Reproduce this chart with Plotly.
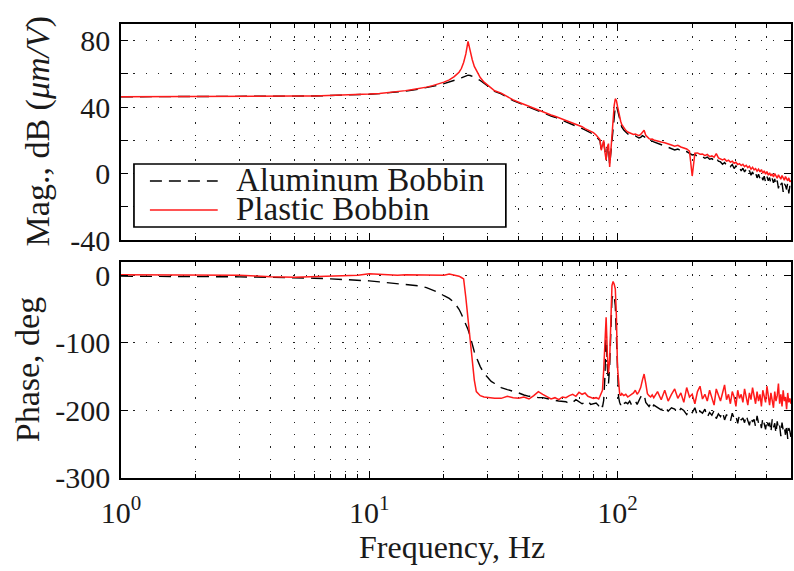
import plotly.graph_objects as go

# Frequency grid of the measured response (Hz)
freq_hz = [
    1, 1.25, 1.5, 2, 2.5, 3, 3.5, 4, 5, 6,
    7, 8, 9, 10, 11, 12, 13, 14, 15, 16,
    17, 18, 19, 20, 21, 22, 23, 23.5, 24, 24.5,
    25, 25.5, 26, 26.5, 27, 28, 29, 30, 31, 32,
    34, 36, 38, 40, 42, 44, 46, 48, 50, 52,
    54, 56, 58, 60, 62, 64, 66, 68, 70, 72,
    74, 76, 78, 80, 82, 84, 85, 86, 87, 88,
    89, 90, 91, 92, 93, 94, 95, 96, 97, 98,
    99, 100, 101, 102, 103, 104, 106, 108, 110, 112,
    114, 116, 118, 120, 122, 124, 126, 128, 130, 132,
    134, 136, 138, 140, 145, 150, 155, 160, 165, 170,
    175, 180, 185, 190, 195, 200, 205, 210, 215, 220,
    225, 230, 235, 240, 245, 250, 255, 260, 265, 270,
    275, 280, 285, 290, 295, 300, 305, 310, 315, 320,
    325, 330, 335, 340, 345, 350, 355, 360, 365, 370,
    375, 380, 385, 390, 395, 400, 405, 410, 415, 420,
    425, 430, 435, 440, 445, 450, 455, 460, 465, 470,
    475, 480, 485, 490, 495, 500,
]

# Magnitude, dB (um/V)
mag_aluminum_db = [
    46.2, 46.2, 46.2, 46.3, 46.3, 46.4, 46.4, 46.5, 46.6, 46.7,
    46.9, 47.1, 47.4, 47.7, 48.1, 48.5, 49.0, 49.6, 50.2, 50.9,
    51.6, 52.4, 53.2, 54.1, 55.0, 56.0, 57.0, 57.6, 58.2, 58.8,
    59.2, 59.0, 58.6, 58.0, 57.4, 56.0, 54.5, 52.8, 51.0, 49.5,
    48.0, 45.8, 43.9, 42.5, 41.2, 39.9, 38.6, 37.6, 36.7, 35.7,
    34.6, 33.9, 33.0, 32.0, 31.2, 30.3, 29.5, 28.8, 28.0, 27.4,
    26.3, 25.4, 24.6, 23.6, 22.2, 20.8, 19.8, 14.5, 16.0, 19.0,
    12.5, 8.5, 15.0, 16.5, 5.0, 12.5, 21.0, 30.0, 37.0, 40.5,
    41.0, 38.5, 35.5, 32.5, 30.0, 28.0, 26.2, 24.8, 23.8, 23.3,
    22.8, 22.4, 22.6, 22.0, 21.4, 21.8, 22.8, 22.2, 21.2, 20.4,
    19.8, 19.4, 19.6, 19.0, 18.3, 17.5, 16.6, 15.8, 15.2, 14.2,
    14.8, 13.9, 12.8, 13.2, 12.0, 11.2, 11.4, 10.4, 10.9, 9.8,
    9.2, 9.9, 8.6, 9.0, 7.9, 9.6, 7.4, 7.0, 5.6, 6.6,
    5.0, 6.0, 4.2, 5.4, 3.0, 4.6, 2.6, 3.8, 1.6, 3.2,
    1.0, 2.6, 0.2, 1.8, -1.0, 1.0, -1.6, 0.4, -2.6, -0.4,
    -3.0, -0.8, -4.0, -1.6, -5.2, -1.8, -4.4, -2.4, -6.0, -3.0,
    -5.6, -3.2, -7.0, -4.2, -9.0, -4.8, -6.4, -5.6, -11.0, -6.2,
    -7.2, -9.6, -5.8, -12.0, -7.0, -8.4,
]

mag_plastic_db = [
    46.2, 46.2, 46.2, 46.3, 46.3, 46.4, 46.4, 46.5, 46.6, 46.7,
    46.9, 47.2, 47.5, 47.8, 48.2, 48.7, 49.3, 49.9, 50.6, 51.2,
    52.0, 52.9, 53.9, 55.0, 56.4, 58.3, 61.0, 63.2, 66.8, 72.0,
    79.5, 73.5, 68.5, 64.5, 62.0, 57.8, 55.0, 53.0, 51.3, 49.8,
    48.4, 46.2, 44.3, 42.9, 41.6, 40.3, 39.0, 38.1, 37.2, 36.2,
    35.2, 34.5, 33.6, 32.6, 31.8, 31.0, 30.1, 29.5, 28.6, 28.2,
    27.0, 26.2, 25.5, 24.6, 23.2, 21.5, 20.5, 14.0, 16.5, 20.0,
    13.0, 8.0, 16.0, 18.0, 4.0, 14.0, 24.0, 34.0, 41.0, 45.0,
    44.0, 40.5, 37.0, 34.0, 31.5, 29.5, 27.5, 26.0, 25.0, 24.5,
    24.0, 23.5, 23.8, 23.2, 22.8, 23.5, 24.8, 26.0, 23.0, 21.8,
    21.0, 20.6, 20.8, 20.2, 19.8, 19.0, 18.5, 17.6, 17.2, 16.5,
    17.0, 16.0, 15.2, 14.8, 13.5, -1.5, 12.2, 12.4, 11.6, 11.8,
    10.8, 11.5, 10.2, 10.6, 9.8, 12.0, 9.4, 9.0, 8.2, 8.8,
    7.5, 8.0, 6.9, 7.4, 6.2, 6.8, 5.4, 6.0, 4.8, 5.6,
    4.2, 5.0, 3.6, 4.4, 2.6, 3.8, 2.2, 3.0, 1.4, 2.6,
    1.0, 2.4, 0.2, 1.6, -0.4, 1.2, -1.0, 0.4, -1.4, -0.2,
    -2.0, 0.0, -1.6, -2.8, -0.8, -2.4, -3.4, -1.2, -2.6, -4.0,
    -1.8, -3.2, -4.4, -2.6, -5.0, -4.2,
]

# Phase, deg
phase_aluminum_deg = [
    -1.0, -1.0, -1.2, -1.5, -1.8, -2.0, -2.3, -2.5, -3.0, -4.0,
    -5.0, -6.0, -7.0, -8.0, -9.5, -11.0, -12.0, -13.0, -14.0, -15.5,
    -18, -21, -25, -30, -34, -40, -50, -57, -64, -72,
    -80, -90, -103, -113, -121, -135, -145, -152, -157, -160,
    -166, -169, -171, -174, -177, -179, -179, -181, -181, -182,
    -183, -185, -186, -186, -187, -190, -188, -184, -187, -190,
    -188, -186, -191, -190, -189, -193, -190, -188, -195, -185,
    -150, -80, -135, -160, -135, -70, -35, -28, -30, -45,
    -90, -150, -180, -188, -192, -186, -190, -188, -190, -186,
    -192, -189, -186, -191, -184, -180, -178, -176, -188, -192,
    -194, -190, -196, -192, -195, -199, -194, -201, -196, -198,
    -204, -197, -200, -206, -199, -203, -196, -208, -201, -204,
    -198, -210, -203, -207, -200, -212, -205, -209, -202, -214,
    -206, -210, -216, -204, -212, -208, -219, -206, -214, -211,
    -218, -207, -215, -222, -210, -217, -213, -224, -208, -219,
    -215, -226, -211, -220, -228, -214, -223, -218, -232, -213,
    -225, -219, -234, -216, -227, -222, -238, -218, -229, -224,
    -236, -221, -242, -226, -231, -240,
]

phase_plastic_deg = [
    1.0, 1.0, 1.0, 1.0, 0.8, 0.5, -0.8, -2.0, -2.5, -1.5,
    0.0, 0.5, 0.5, 2.5, 1.5, 1.0, 0.5, 1.0, 1.0, 0.5,
    1.0, 1.2, 1.0, 0.5, 2.0, 1.0, -1.0, -3.0, -5.0, -33.0,
    -65, -96, -127, -155, -172, -178, -180, -181, -182, -182,
    -182, -179, -181, -182, -180, -183, -178, -172, -176, -180,
    -183, -181, -184, -180, -181, -178, -176, -179, -173, -176,
    -174, -179, -180, -182, -181, -183, -179, -175, -170, -140,
    -95, -62, -115, -145, -125, -50, -15, -9, -13, -20,
    -60, -135, -165, -175, -178, -175, -178, -176, -180, -178,
    -177, -174, -170, -176, -172, -166, -155, -146, -160, -175,
    -178, -180, -177, -181, -172, -184, -170, -186, -176, -168,
    -182, -174, -188, -166, -180, -176, -190, -172, -164, -183,
    -176, -186, -170, -180, -192, -168, -178, -186, -174, -162,
    -184, -176, -190, -172, -180, -194, -170, -182, -176, -188,
    -168, -180, -192, -174, -184, -166, -178, -190, -172, -186,
    -176, -194, -170, -182, -188, -164, -180, -192, -174, -184,
    -196, -172, -186, -178, -160, -190, -176, -194, -170, -186,
    -180, -198, -174, -188, -182, -190,
]

series_names = ["Aluminum Bobbin", "Plastic Bobbin"]

# Axis ticks
x_major = [1, 10, 100]
x_major_text = ["10<sup>0</sup>", "10<sup>1</sup>", "10<sup>2</sup>"]
x_minor = [2, 3, 4, 5, 6, 7, 8, 9, 20, 30, 40, 50, 60, 70, 80, 90, 200, 300, 400, 500]
mag_ticks = [-40, 0, 40, 80]
mag_tick_text = ["-40", "0", "40", "80"]
mag_minor = [-20, 20, 60]
phase_ticks = [-300, -200, -100, 0]
phase_tick_text = ["-300", "-200", "-100", "0"]

FONT = "Liberation Serif, Times New Roman, serif"
TXT = "#1a1a1a"
RED = "#ff1a1a"

fig = go.Figure()

alu_line = dict(color="black", width=1.4, dash="12px,7px")
pla_line = dict(color=RED, width=1.5)

fig.add_trace(go.Scatter(x=freq_hz, y=mag_aluminum_db, mode="lines", line=alu_line,
                         name=series_names[0], xaxis="x", yaxis="y"))
fig.add_trace(go.Scatter(x=freq_hz, y=mag_plastic_db, mode="lines", line=pla_line,
                         name=series_names[1], xaxis="x", yaxis="y"))
fig.add_trace(go.Scatter(x=freq_hz, y=phase_aluminum_deg, mode="lines", line=alu_line,
                         name=series_names[0], xaxis="x2", yaxis="y2", showlegend=False))
fig.add_trace(go.Scatter(x=freq_hz, y=phase_plastic_deg, mode="lines", line=pla_line,
                         name=series_names[1], xaxis="x2", yaxis="y2", showlegend=False))

grid = dict(showgrid=True, gridcolor="#222222", gridwidth=1.3, griddash="1.3px,11px")
frame = dict(showline=True, linecolor="black", linewidth=1.7, mirror="ticks",
             ticks="inside", ticklen=7, tickwidth=1.2, tickcolor="black",
             zeroline=False, tickfont=dict(family=FONT, size=30, color=TXT))

def minor_cfg(vals, length):
    return dict(tickmode="array", tickvals=vals, ticks="inside", ticklen=length,
                tickcolor="black", tickwidth=1, **grid)

xcommon = dict(type="log", range=[0, 2.69897], tickmode="array", tickvals=x_major,
               ticktext=x_major_text, minor=minor_cfg(x_minor, 4), **grid, **frame)

fig.update_layout(
    width=794, height=571,
    margin=dict(l=121, r=1, t=24, b=93),
    paper_bgcolor="white", plot_bgcolor="white",
    showlegend=False,
    xaxis=dict(domain=[0, 1], anchor="y", showticklabels=False, matches="x2", **xcommon),
    xaxis2=dict(domain=[0, 1], anchor="y2", ticklabelstandoff=7, **xcommon),
    yaxis=dict(domain=[0.5242, 1], anchor="x", range=[-40, 90], tickmode="array",
               tickvals=mag_ticks, ticktext=mag_tick_text, minor=minor_cfg(mag_minor, 7),
               ticklabelstandoff=3, **grid, **frame),
    yaxis2=dict(domain=[0, 0.4758], anchor="x2", range=[-300, 20], tickmode="array",
                tickvals=phase_ticks, ticktext=phase_tick_text, ticklabelstandoff=3,
                **grid, **frame),
)

# Axis titles
title_font = dict(family=FONT, size=34, color=TXT)
fig.add_annotation(text="Mag., dB (<i>\u03bcm/V</i>)", xref="paper", yref="paper",
                   x=-0.1235, y=0.764, textangle=-90, showarrow=False,
                   xanchor="center", yanchor="middle", font=title_font)
fig.add_annotation(text="Phase, deg", xref="paper", yref="paper",
                   x=-0.1384, y=0.2379, textangle=-90, showarrow=False,
                   xanchor="center", yanchor="middle", font=title_font)
fig.add_annotation(text="Frequency, Hz", xref="paper", yref="paper",
                   x=0.494, y=-0.152, showarrow=False,
                   xanchor="center", yanchor="middle", font=dict(family=FONT, size=32, color=TXT))

# Legend box drawn in the upper panel
def px_x(p):
    return (p - 121) / 672

def px_y(p):
    return (478 - p) / 454

fig.add_shape(type="rect", xref="paper", yref="paper", layer="above",
              x0=px_x(134), x1=px_x(507), y0=px_y(227), y1=px_y(164),
              line=dict(color="black", width=1.7), fillcolor="white")
fig.add_shape(type="line", xref="paper", yref="paper", layer="above",
              x0=px_x(150), x1=px_x(218), y0=px_y(181), y1=px_y(181), line=alu_line)
fig.add_shape(type="line", xref="paper", yref="paper", layer="above",
              x0=px_x(150), x1=px_x(218), y0=px_y(210), y1=px_y(210), line=pla_line)
legend_font = dict(family=FONT, size=33, color=TXT)
fig.add_annotation(text=series_names[0], xref="paper", yref="paper", x=px_x(235), y=px_y(180),
                   showarrow=False, xanchor="left", yanchor="middle", height=24,
                   borderpad=0, font=legend_font)
fig.add_annotation(text=series_names[1], xref="paper", yref="paper", x=px_x(235), y=px_y(209),
                   showarrow=False, xanchor="left", yanchor="middle", height=24,
                   borderpad=0, font=legend_font)

fig.write_html("out.html")
